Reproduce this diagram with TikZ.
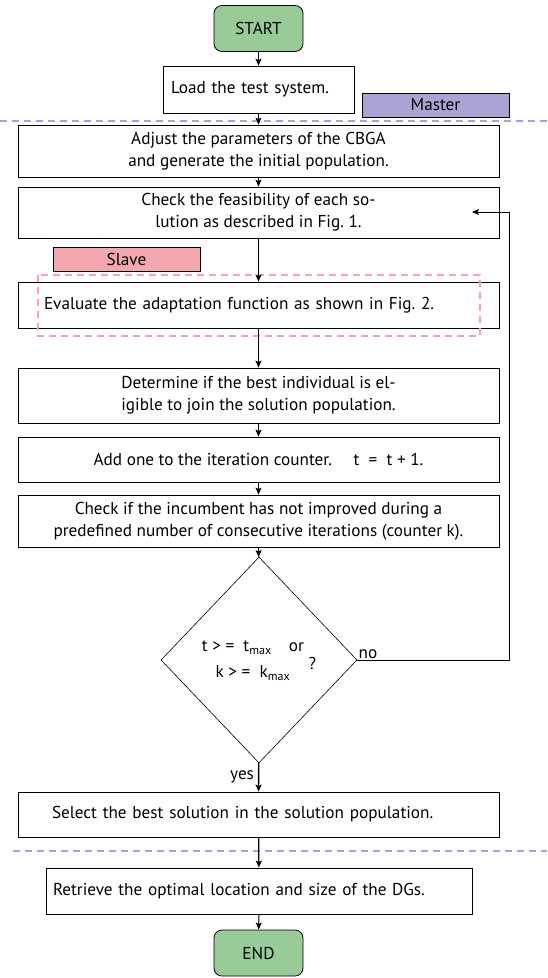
\documentclass[tikz,border=0pt]{standalone}
\usepackage{fontspec}
\setmainfont{PT Sans}
\usetikzlibrary{arrows.meta,shapes.geometric}
\definecolor{termgreen}{RGB}{152,203,152}
\definecolor{mastercol}{RGB}{170,164,212}
\definecolor{slavecol}{RGB}{243,167,175}
\definecolor{masterline}{RGB}{165,160,228}
\definecolor{slaveline}{RGB}{245,165,178}
\frenchspacing

\begin{document}
\begin{tikzpicture}[x=1pt,y=-1pt]
% Styles
\tikzset{
  txt/.style={font=\fontsize{17.2}{22}\selectfont},
  procbox/.style={draw, rectangle, txt, line width=0.8pt, minimum width=481pt, inner sep=0pt, align=center},
  leftbox/.style={procbox, align=left, inner xsep=#1, text width=481pt-2*#1},
  termbox/.style={draw, rectangle, rounded corners=8pt, fill=termgreen, txt, line width=0.8pt, minimum width=89pt, minimum height=46pt},
  tagbox/.style={draw, rectangle, txt, line width=0.8pt, minimum width=147pt, minimum height=24pt, inner sep=0pt},
  flow/.style={-{Stealth[length=7pt,width=6pt,inset=1.5pt]}, line width=1pt},
  sepline/.style={masterline, dash pattern=on 7pt off 5pt, line width=1.2pt}
}
\useasboundingbox (0,0) rectangle (547,978);
% Master / slave areas
\draw[sepline] (0,121) -- (547,121);
\draw[sepline] (13,851) -- (547,851);
\node[tagbox, fill=mastercol] (master) at (435.5,105) {Master};
\node[tagbox, fill=slavecol] (slave) at (126.5,259) {Slave};
% The graphic
\node[termbox] (start) at (258.5,28.5) {START};
\node[draw, rectangle, txt, line width=0.8pt, minimum width=191pt, minimum height=47pt,
  text width=175pt, inner xsep=8pt, align=left] (load) at (258.5,89.5) {Load the test system.};
\node[procbox, minimum height=52pt] (adjust) at (258.5,151)
  {Adjust the parameters of the CBGA\\ and generate the initial population.};
\node[procbox, minimum height=51pt] (feas) at (258.5,212.5)
  {Check the feasibility of each so-\\lution as described in Fig. 1.};
\node[leftbox=26pt, minimum height=46pt] (eval) at (258.5,305)
  {Evaluate the adaptation function as shown in Fig. 2.};
\draw[slaveline, dash pattern=on 7pt off 5pt, line width=1.1pt] (38,275) rectangle (480,336);
\node[procbox, minimum height=55pt] (best) at (258.5,395.5)
  {Determine if the best individual is el-\\igible to join the solution population.};
\node[procbox, minimum height=45pt] (count) at (258.5,459.5)
  {Add one to the iteration counter.\quad\ t \ = \ t + 1.};
\node[procbox, minimum height=52pt] (stall) at (258.5,521)
  {Check if the incumbent has not improved during a\\predefined number of consecutive iterations (counter k).};
\node[draw, diamond, txt, line width=0.6pt, minimum width=196pt, minimum height=206pt, inner sep=0pt] (stop) at (259,660)
  {\begin{tabular}{@{}c@{}}t > = \ t\textsubscript{max}\quad or\\[4pt] k > = \ k\textsubscript{max}\end{tabular}\ \raisebox{-0.6ex}{?}};
\node[leftbox=34pt, minimum height=45pt] (select) at (258.5,814.5)
  {Select the best solution in the solution population.};
\node[draw, rectangle, txt, line width=0.8pt, minimum width=426pt, minimum height=46pt,
  text width=412pt, inner xsep=7pt, align=left] (retrieve) at (259,891)
  {Retrieve the optimal location and size of the DGs.};
\node[termbox] (end) at (258.5,953) {END};
% connectors
\draw[flow] (start) -- (load);
\draw[flow] (load) -- (adjust);
\draw[flow] (adjust) -- (feas);
\draw[flow, line width=1.3pt] (feas) -- (eval);
\draw[flow, line width=1.3pt] (eval) -- (best);
\draw[flow] (best) -- (count);
\draw[flow] (count) -- (stall);
\draw[flow] (stall) -- (stop);
\draw[flow, line width=1.3pt] (stop) -- node[left, txt, inner sep=4pt] {yes} (select);
\draw[flow, line width=1.3pt] (select) -- (retrieve);
\draw[flow] (retrieve) -- (end);
% loop back
\coordinate (back) at (472,212);
\draw[flow, line width=0.8pt] (stop.east) node[above right, txt, inner sep=1pt] {no}
  -- (509,660) -- (509,212) -- (back);
\end{tikzpicture}
\end{document}
